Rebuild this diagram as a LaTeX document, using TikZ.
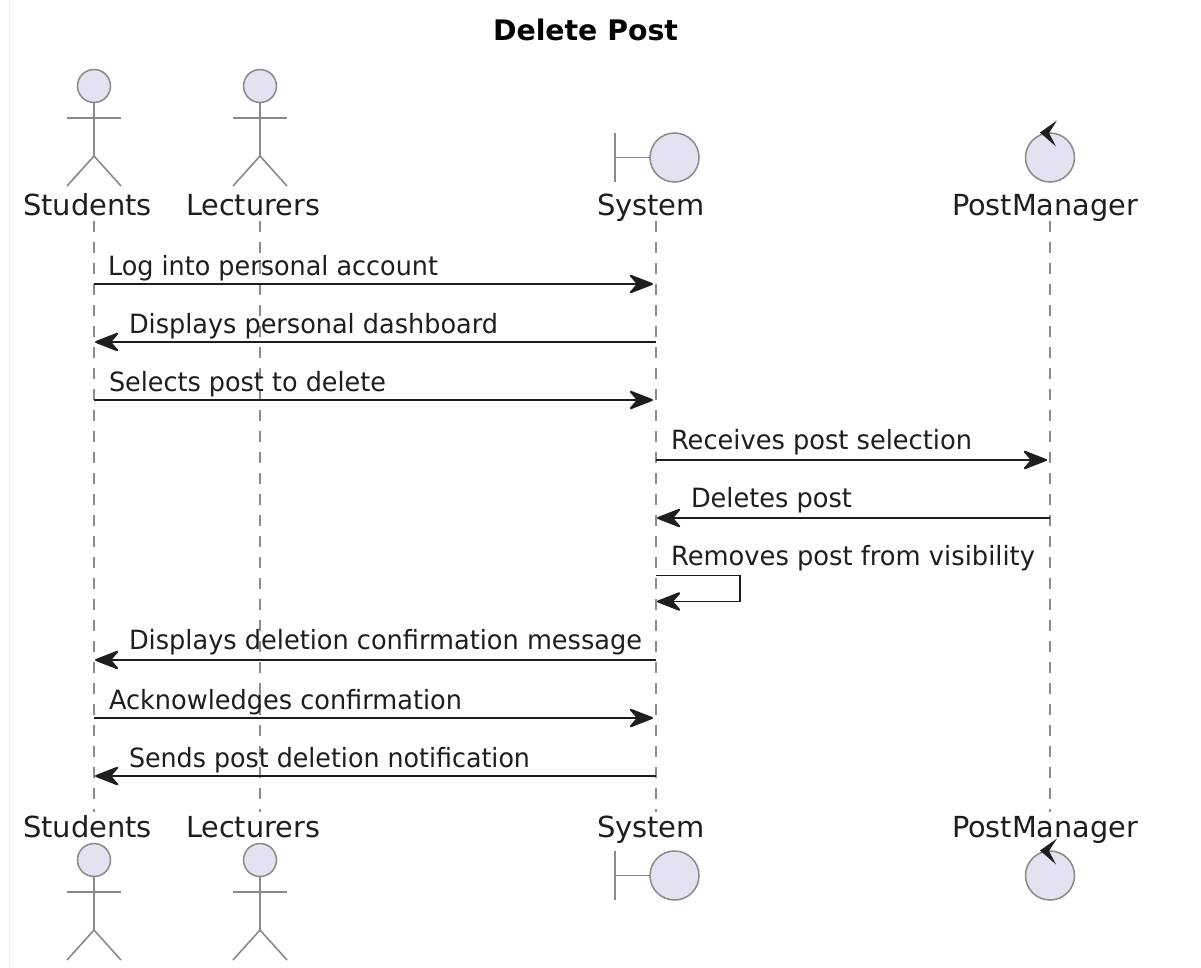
\documentclass[tikz,border=0pt]{standalone}
\usepackage{graphicx}
\usepackage{fontspec}
\setmainfont{DejaVu Sans}
\usetikzlibrary{arrows.meta}
\definecolor{inkc}{HTML}{1E1E1E}
\definecolor{edgec}{HTML}{8A8A8A}
\definecolor{lifec}{HTML}{8C8C8C}
\definecolor{fillc}{HTML}{E2E2F0}
\newcommand{\fitw}[3]{\resizebox{#1pt}{\height}{\fontsize{#2}{#2}\selectfont #3}}
\tikzset{
  x=1pt,y=-1pt,
  txt/.style={inner sep=0pt,outer sep=0pt,anchor=base west,text=inkc},
  lifeline/.style={draw=lifec,line width=1.3pt,dash pattern=on 11pt off 10pt},
  msg/.style={draw=inkc,line width=1.9pt,-{Stealth[length=27pt,width=21pt,inset=9pt,round=false]},shorten >=3pt},
  msgleft/.style={msg,shorten >=1pt},
  figline/.style={draw=edgec,line width=1.6pt},
  figfill/.style={draw=edgec,line width=1.5pt,fill=fillc},
  ctip/.style={fill=inkc,draw=none}
}
\newcommand{\actorfig}[2]{%
  \draw[figfill] (#1,#2) circle[radius=16.5];
  \draw[figline] (#1,#2+16.5) -- (#1,#2+70);
  \draw[figline] (#1-27,#2+32) -- (#1+27,#2+32);
  \draw[figline] (#1-27,#2+100) -- (#1,#2+70) -- (#1+27,#2+100);
}
\newcommand{\boundfig}[2]{%
  \draw[figline] (#1-59.5,#2-24.5) -- (#1-59.5,#2+24.5);
  \draw[figline] (#1-59.5,#2) -- (#1-25,#2);
  \draw[figfill] (#1,#2) circle[radius=24.5];
}
\newcommand{\controlfig}[2]{%
  \draw[figfill] (#1,#2) circle[radius=24.5];
  \fill[ctip] (#1-10,#2-25) -- (#1+7,#2-37) -- (#1-1,#2-24.5) -- (#1+6,#2-11) -- cycle;
}
\begin{document}
\begin{tikzpicture}
\useasboundingbox (0,0) rectangle (1201,968);
\fill[white] (0,0) rectangle (1201,968);
\draw[black!8,line width=1pt] (9.5,0) -- (9.5,968);

% title
\node[txt,text=black] (title) at (493,41) {\fitw{185}{28.3}{\bfseries Delete Post}};

% lifelines
\coordinate (stuT) at (94,221);  \coordinate (stuB) at (94,812);
\coordinate (lecT) at (260,221); \coordinate (lecB) at (260,812);
\coordinate (sysT) at (656,221); \coordinate (sysB) at (656,812);
\coordinate (pmT)  at (1050,221);\coordinate (pmB)  at (1050,812);
\draw[lifeline] (stuT) -- (stuB);
\draw[lifeline] (lecT) -- (lecB);
\draw[lifeline] (sysT) -- (sysB);
\draw[lifeline] (pmT) -- (pmB);

% participants, top
\actorfig{94}{86}
\actorfig{260}{86}
\boundfig{674.5}{157.5}
\controlfig{1050}{157.5}
\node[txt] (stuA) at (23,216)  {\fitw{129}{29}{Students}};
\node[txt] (lecA) at (186,216) {\fitw{134}{29}{Lecturers}};
\node[txt] (sysA) at (597,216) {\fitw{108}{29}{System}};
\node[txt] (pmA)  at (952,216) {\fitw{186}{29}{PostManager}};

% participants, bottom
\node[txt] (stuZ) at (23,837)  {\fitw{129}{29}{Students}};
\node[txt] (lecZ) at (186,837) {\fitw{134}{29}{Lecturers}};
\node[txt] (sysZ) at (597,837) {\fitw{108}{29}{System}};
\node[txt] (pmZ)  at (952,837) {\fitw{186}{29}{PostManager}};
\actorfig{94}{860}
\actorfig{260}{860}
\boundfig{674.5}{875.5}
\controlfig{1050}{875.5}

% message anchors
\coordinate (s1) at (94,284);  \coordinate (y1) at (656,284);
\coordinate (s2) at (94,342);  \coordinate (y2) at (656,342);
\coordinate (s3) at (94,400);  \coordinate (y3) at (656,400);
\coordinate (y4) at (656,460); \coordinate (p4) at (1050,460);
\coordinate (y5) at (656,518); \coordinate (p5) at (1050,518);
\coordinate (y6a) at (656,575.5); \coordinate (c6a) at (740,575.5);
\coordinate (c6b) at (740,601.5); \coordinate (y6b) at (656,601.5);
\coordinate (s7) at (94,660);  \coordinate (y7) at (656,660);
\coordinate (s8) at (94,718);  \coordinate (y8) at (656,718);
\coordinate (s9) at (94,776);  \coordinate (y9) at (656,776);

\draw[msg] (s1) -- (y1);
\draw[msgleft] (y2) -- (s2);
\draw[msg] (s3) -- (y3);
\draw[msg] (y4) -- (p4);
\draw[msgleft] (p5) -- (y5);
\draw[msgleft] (y6a) -- (c6a) -- (c6b) -- (y6b);
\draw[msgleft] (y7) -- (s7);
\draw[msg] (s8) -- (y8);
\draw[msgleft] (y9) -- (s9);

% message labels
\node[txt] (m1) at (108,275) {\fitw{330}{26.5}{Log into personal account}};
\node[txt] (m2) at (129,333) {\fitw{369}{26.5}{Displays personal dashboard}};
\node[txt] (m3) at (109,391) {\fitw{277}{26.5}{Selects post to delete}};
\node[txt] (m4) at (671,449) {\fitw{301}{26.5}{Receives post selection}};
\node[txt] (m5) at (691,507) {\fitw{161}{26.5}{Deletes post}};
\node[txt] (m6) at (671,565) {\fitw{364}{26.5}{Removes post from visibility}};
\node[txt] (m7) at (129,649) {\fitw{513}{26.5}{Displays deletion confirmation message}};
\node[txt] (m8) at (109,709) {\fitw{353}{26.5}{Acknowledges confirmation}};
\node[txt] (m9) at (129,767) {\fitw{401}{26.5}{Sends post deletion notification}};
\end{tikzpicture}
\end{document}
